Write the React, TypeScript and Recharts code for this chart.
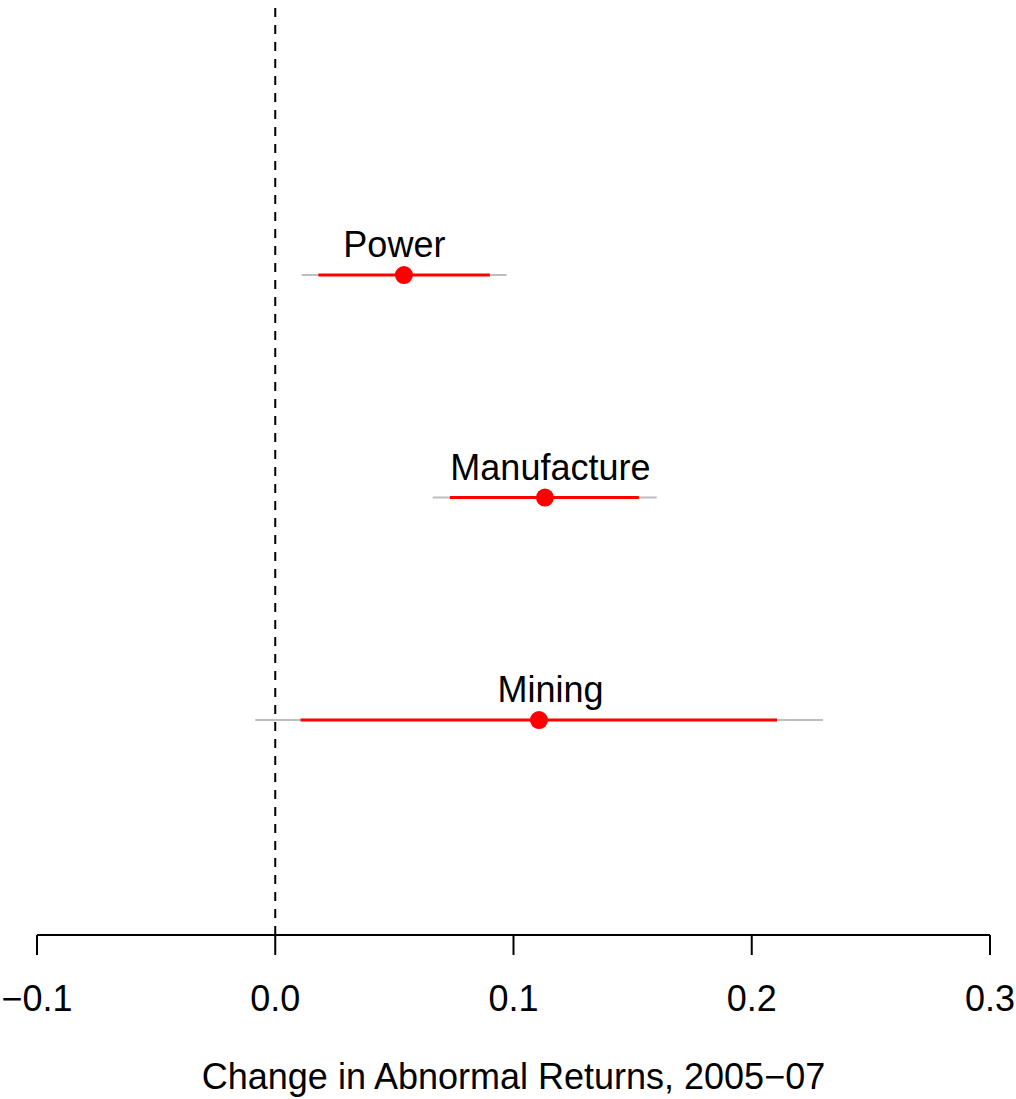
import { ScatterChart, Scatter, XAxis, YAxis, ErrorBar, ReferenceLine, Label } from 'recharts';

const sectors = ['Power', 'Manufacture', 'Mining'];
const rowPositions = [3, 2, 1];
const estimates = [0.054, 0.1132, 0.1107];
const lower95 = [0.0111, 0.0661, -0.0084];
const upper95 = [0.0971, 0.1601, 0.2299];
const lower90 = [0.0181, 0.0733, 0.0106];
const upper90 = [0.0901, 0.1526, 0.2106];
const labelX = [0.05, 0.1155, 0.1155];
const xTicks = [-0.1, 0, 0.1, 0.2, 0.3];
const xTitle = 'Change in Abnormal Returns, 2005\u221207';

const FONT = '"Liberation Sans", Arial, Helvetica, sans-serif';

const points = sectors.map((name, i) => ({
  name,
  x: estimates[i],
  y: rowPositions[i],
  wide: [estimates[i] - lower95[i], upper95[i] - estimates[i]],
  narrow: [estimates[i] - lower90[i], upper90[i] - estimates[i]],
}));

const labels = sectors.map((name, i) => ({ name, x: labelX[i], y: rowPositions[i] }));

const fmt = (v: number) => (v < 0 ? '\u2212' + Math.abs(v).toFixed(1) : v.toFixed(1));

const Dot = (props: any) => <circle cx={props.cx} cy={props.cy} r={9} fill="#ff0000" />;

const SectorLabel = (props: any) => (
  <text
    x={props.cx}
    y={props.cy - 18}
    textAnchor="middle"
    fontSize={36}
    fontFamily={FONT}
    fill="#000"
  >
    {props.payload.name}
  </text>
);

export default function App() {
  return (
    <div style={{ position: 'absolute', left: 0, top: 0, width: 1016, height: 1099, background: '#fff' }}>
      <ScatterChart
        width={1016}
        height={1099}
        margin={{ top: 0, right: 26, left: 37, bottom: 4 }}
        style={{ fontFamily: FONT }}
      >
        <XAxis
          type="number"
          dataKey="x"
          domain={[-0.1, 0.3]}
          ticks={xTicks}
          tickFormatter={fmt}
          allowDataOverflow
          height={160}
          tickSize={20}
          tickMargin={30}
          stroke="#000"
          axisLine={{ stroke: '#000', strokeWidth: 2 }}
          tickLine={{ stroke: '#000', strokeWidth: 2 }}
          tick={{ fill: '#000', fontSize: 36, fontFamily: FONT }}
        >
          <Label
            value={xTitle}
            position="insideBottom"
            offset={6}
            fill="#000"
            fontSize={36}
            fontFamily={FONT}
          />
        </XAxis>
        <YAxis type="number" dataKey="y" domain={[0.034, 4.236]} hide allowDataOverflow />
        <ReferenceLine x={0} stroke="#000" strokeWidth={2} strokeDasharray="9 8" />
        <Scatter data={points} shape={Dot} isAnimationActive={false}>
          <ErrorBar dataKey="wide" direction="x" width={0} stroke="#bebebe" strokeWidth={2} isAnimationActive={false} />
          <ErrorBar dataKey="narrow" direction="x" width={0} stroke="#ff0000" strokeWidth={3} isAnimationActive={false} />
        </Scatter>
        <Scatter data={labels} shape={SectorLabel} isAnimationActive={false} />
      </ScatterChart>
    </div>
  );
}
